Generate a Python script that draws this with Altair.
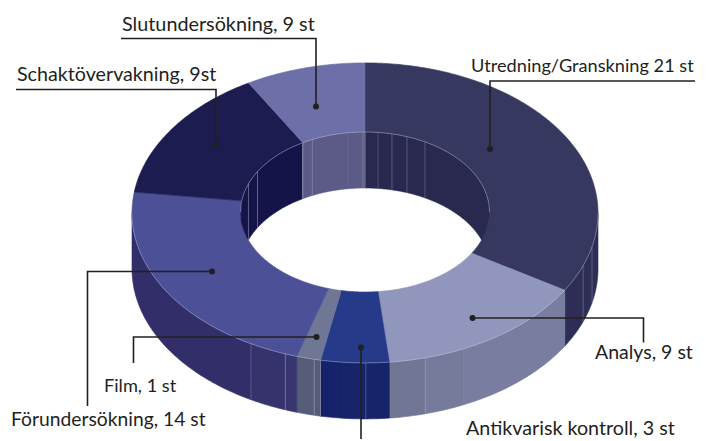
import math
import altair as alt

# Reference-image ellipse geometry of the tilted ring
CX, CY_OUT, CY_IN = 365.0, 212.9, 212.0
RX_OUT, RY_OUT, RX_IN, RY_IN = 233.0, 150.0, 124.5, 80.0
DEPTH = 56.0

categories = ["Utredning/Granskning", "Analys", "Antikvarisk kontroll", "Film",
              "Förundersökning", "Schaktövervakning", "Slutundersökning"]
counts = [21, 9, 3, 1, 14, 9, 9]
# drawn sweep of each slice (degrees, clockwise from 12 o'clock)
sweeps = [121, 53, 17, 6, 81, 52, 30]
top_colors = ["#373860", "#9196bd", "#263a8a", "#6f7794", "#4b5097", "#1d1c50", "#6d6fa8"]

# outer wall facets: start angle, end angle, colour
outer_start = [90, 121, 155, 165, 174, 185.4, 191, 197, 200, 209.3]
outer_end = [121, 155, 165, 174, 185.4, 191, 197, 200, 209.3, 270]
outer_colors = ["#2e2d56", "#797d9f", "#767a9b", "#727695", "#17246a", "#16236a", "#555c78",
                "#38366f", "#35326c", "#312e69"]
outer_lines = [103, 110.6, 155, 165, 179.8, 191, 192.6, 200, 209.3]
outer_line_op = [0.45, 0.45, 0.08, 0.4, 0.45, 0.5, 0.6, 0.55, 0.4]

# inner wall facets
inner_start = [-90, -82, -30, 0]
inner_end = [-82, -30, 0, 90]
inner_colors = ["#1b1a50", "#151449", "#5c5b88", "#29284e"]
inner_lines = [-69.4, -59.7, -30, -25, -8, -1, 0, 6, 12.5, 19.7, 28.8]
inner_line_op = [0.6, 0.6, 0.7, 0.4, 0.12, 0.3, 0.7, 0.35, 0.45, 0.4, 0.4]

# leader lines (vertices in picture pixels), dots, label anchors
leaders = [
    [[121, 38.5], [316, 38.5], [316, 106.5]],
    [[16, 89.5], [216, 89.5], [216, 145]],
    [[695, 81], [490, 81], [490, 149]],
    [[472.5, 318], [643.5, 318], [643.5, 342.5]],
    [[361, 347.5], [361, 439]],
    [[316.5, 337], [133.5, 337], [133.5, 363]],
    [[212, 271.5], [87.5, 271.5], [87.5, 406]],
]
dot_x = [316, 216, 490, 472.5, 361, 316.5, 212]
dot_y = [106.5, 145, 149, 318, 347.5, 337, 271.5]
labels = ["Slutundersökning, 9 st", "Schaktövervakning, 9st", "Utredning/Granskning 21 st",
          "Analys, 9 st", "Antikvarisk kontroll, 3 st", "Film, 1 st", "Förundersökning, 14 st"]
label_x = [122, 17, 471, 595, 466, 104, 11]
label_y = [31, 81, 72, 359, 435, 392, 426]
label_size = [19.8, 19.7, 18.2, 19.5, 19.7, 18.2, 19.3]


def pt(theta, rx, ry, cy, dz=0.0):
    t = math.radians(theta)
    return [CX + rx * math.sin(t), cy - ry * math.cos(t) + dz]


def arc(a, b, rx, ry, cy, dz=0.0):
    n = max(2, int(abs(b - a) * 1.5) + 1)
    return [pt(a + (b - a) * i / (n - 1), rx, ry, cy, dz) for i in range(n)]


def poly(ring, color):
    return {"type": "Feature", "geometry": {"type": "Polygon", "coordinates": [ring + [ring[0]]]},
            "properties": {"color": color}}


def line(coords, op=1.0):
    return {"type": "Feature", "geometry": {"type": "LineString", "coordinates": coords}, "properties": {"op": op}}


shapes = []
# outer wall
for a, b, c in zip(outer_start, outer_end, outer_colors):
    up = arc(a, b, RX_OUT, RY_OUT, CY_OUT)
    dn = arc(b, a, RX_OUT, RY_OUT, CY_OUT, DEPTH)
    shapes.append(poly(up + dn, c))
# top face wedges
ang = 0.0
for s, c in zip(sweeps, top_colors):
    ring = arc(ang, ang + s, RX_OUT, RY_OUT, CY_OUT) + arc(ang + s, ang, RX_IN, RY_IN, CY_IN)
    shapes.append(poly(ring, c))
    ang += s


# inner wall: column-wise so it stays inside the hole
def inner_wall(a, b, color):
    top, low = [], []
    n = max(3, int(abs(b - a) * 2) + 1)
    for i in range(n):
        th = a + (b - a) * i / (n - 1)
        p = pt(th, RX_IN, RY_IN, CY_IN)
        u = (p[0] - CX) / RX_IN
        front = CY_IN + RY_IN * math.sqrt(max(0, 1 - u * u))
        top.append(p)
        low.append([p[0], min(p[1] + DEPTH, front)])
    return poly(top + low[::-1], color)


for a, b, c in zip(inner_start, inner_end, inner_colors):
    shapes.append(inner_wall(a, b, c))

# thin light facet lines and rims
rims = []
for th, op in zip(outer_lines, outer_line_op):
    rims.append(line([pt(th, RX_OUT, RY_OUT, CY_OUT), pt(th, RX_OUT, RY_OUT, CY_OUT, DEPTH)], op))
for th, op in zip(inner_lines, inner_line_op):
    p = pt(th, RX_IN, RY_IN, CY_IN)
    rims.append(line([p, [p[0], p[1] + DEPTH]], op))
rims.append(line(arc(90, 270, RX_OUT, RY_OUT, CY_OUT), 0.55))
rims.append(line(arc(-90, 90, RX_IN, RY_IN, CY_IN), 0.65))

proj = dict(type="identity", scale=1, translate=[-8, -8])

fills = alt.Chart(alt.Data(values=shapes)).mark_geoshape(strokeWidth=0.6).encode(
    fill=alt.Fill("properties.color:N", scale=None),
    stroke=alt.Stroke("properties.color:N", scale=None),
).project(**proj)

rim_layer = alt.Chart(alt.Data(values=rims)).mark_geoshape(
    filled=False, stroke="#c9cce2", strokeWidth=0.7
).encode(strokeOpacity=alt.StrokeOpacity("properties.op:Q", scale=None)).project(**proj)

leader_layer = alt.Chart(alt.Data(values=[line(l) for l in leaders])).mark_geoshape(
    filled=False, stroke="#231f20", strokeWidth=1.6
).project(**proj)

dots = alt.Chart(alt.Data(values=[{"lon": x, "lat": y} for x, y in zip(dot_x, dot_y)])).mark_circle(
    color="#231f20", size=36, opacity=1
).encode(longitude="lon:Q", latitude="lat:Q").project(**proj)

texts = alt.Chart(alt.Data(values=[{"t": t, "lon": x, "lat": y, "s": s}
                                   for t, x, y, s in zip(labels, label_x, label_y, label_size)])).mark_text(
    font="Lato", align="left", baseline="alphabetic", color="#231f20"
).encode(longitude="lon:Q", latitude="lat:Q", text="t:N",
         size=alt.Size("s:Q", scale=None, legend=None)).project(**proj)

chart = alt.layer(fills, rim_layer, leader_layer, dots, texts).properties(
    width=697, height=433, padding=0, autosize=alt.AutoSizeParams(type="none")
).configure_view(stroke=None).configure(background="white")

chart.save("out.html", embed_options={"renderer": "svg", "actions": False})
